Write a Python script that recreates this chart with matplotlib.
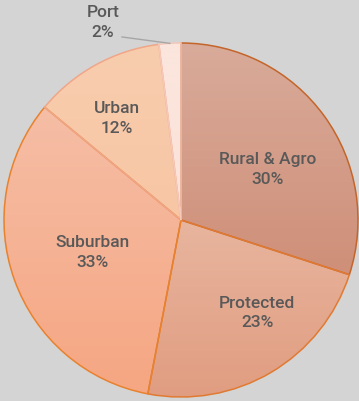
import numpy as np
import matplotlib
matplotlib.use("Agg")
import matplotlib.pyplot as plt
from matplotlib.colors import to_rgb

# Land-use shares (percent), drawn clockwise from 12 o'clock
categories = ["Rural & Agro", "Protected", "Suburban", "Urban", "Port"]
shares = [30, 23, 33, 12, 2]

# Vertical gradient (top, bottom) per slice, and slice outline colours
top_colors = ["#d9ab9a", "#e8b59e", "#f5bea6", "#f8cdae", "#fbe6de"]
bottom_colors = ["#cf8f78", "#e09c80", "#f6a682", "#f7c6a4", "#fbe2d8"]
edge_colors = ["#c4652a", "#e07a32", "#e8822e", "#f0a688", "#f5c8b8"]

# Label anchor points in pie coordinates (radius = 1)
label_xy = [(0.49, 0.29), (0.43, -0.52), (-0.50, -0.18), (-0.36, 0.58), (-0.44, 1.12)]

BG = "#d4d4d4"
TXT = "#595959"

fig = plt.figure(figsize=(3.59, 4.02), dpi=100, facecolor=BG)
ax = fig.add_axes([4 / 359, 4 / 402, 354 / 359, 354 / 402])
ax.set_facecolor(BG)

wedges, _ = ax.pie(shares, startangle=90, counterclock=False, radius=1.0,
                   wedgeprops=dict(linewidth=1.1))

for w, c0, c1, ec in zip(wedges, top_colors, bottom_colors, edge_colors):
    w.set_facecolor("none")
    w.set_edgecolor(ec)
    w.set_zorder(3)
    # bounding box of the wedge in data coordinates
    verts = w.get_path().vertices
    xs, ys = verts[:, 0], verts[:, 1]
    x0, x1, y0, y1 = xs.min(), xs.max(), ys.min(), ys.max()
    n = 256
    t = np.linspace(0, 1, n)[:, None]
    grad = (1 - t) * np.array(to_rgb(c0)) + t * np.array(to_rgb(c1))
    img = np.repeat(grad[:, None, :], 2, axis=1)
    im = ax.imshow(img, extent=(x0, x1, y0, y1), origin="upper",
                   aspect="auto", zorder=2, interpolation="bilinear")
    im.set_clip_path(w)

font = dict(family="Roboto", weight="medium",
            size=12.5, color=TXT, ha="center", va="center", linespacing=1.4)

for name, val, (lx, ly) in zip(categories, shares, label_xy):
    ax.text(lx, ly, f"{name}\n{val}%", zorder=5, clip_on=False, **font)

# Leader line for the small Port slice
port_start = 90
port_mid = np.deg2rad(port_start + shares[-1] / 100 * 360 / 2)
ax.plot([-0.333, np.cos(port_mid)], [1.034, np.sin(port_mid)],
        color="#a6a6a6", lw=1.0, zorder=4, clip_on=False)

ax.set_xlim(-1, 1)
ax.set_ylim(-1, 1)
ax.set_aspect("equal")
ax.axis("off")

fig.savefig("out.png", dpi=100, facecolor=BG)
